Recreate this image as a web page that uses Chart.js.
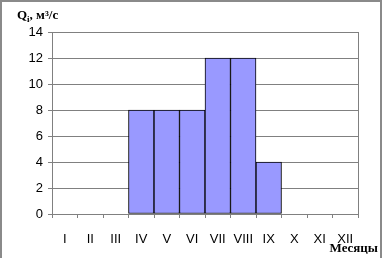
<!DOCTYPE html>
<html><head><meta charset="utf-8">
<script src="https://cdn.jsdelivr.net/npm/chart.js@4/dist/chart.umd.min.js"></script>
<style>
html,body{margin:0;padding:0;background:#fff;}
#wrap{position:relative;width:382px;height:258px;box-sizing:border-box;border-left:2px solid #8a8a8a;border-top:2px solid #8a8a8a;border-right:2px solid #8a8a8a;}
#c{position:absolute;left:-2px;top:-2px;}
</style></head>
<body>
<div id="wrap"><canvas id="c" width="382" height="258"></canvas></div>
<script>
const months = ['I','II','III','IV','V','VI','VII','VIII','IX','X','XI','XII'];
const discharge = [0,0,0,8,8,8,12,12,4,0,0,0];
const yTicks = [0,2,4,6,8,10,12,14];
const yTitle = 'Q';
const yTitleSub = 'i';
const yTitleRest = ', м³/с';
const xTitle = 'Месяцы';

const deco = {
  id:'deco',
  afterDraw(chart){
    const ctx = chart.ctx, a = chart.chartArea;
    ctx.save();
    ctx.strokeStyle = '#808080'; ctx.lineWidth = 1;
    ctx.beginPath(); ctx.moveTo(Math.round(a.right)+0.5, a.top); ctx.lineTo(Math.round(a.right)+0.5, a.bottom); ctx.stroke();
    ctx.fillStyle = '#000';
    ctx.textBaseline = 'alphabetic';
    ctx.font = 'bold 13px "Liberation Serif"';
    let x = 17, y = 19;
    ctx.fillText(yTitle, x, y); x += ctx.measureText(yTitle).width;
    ctx.font = 'bold 9px "Liberation Serif"';
    ctx.fillText(yTitleSub, x, y + 3); x += ctx.measureText(yTitleSub).width;
    ctx.font = 'bold 13px "Liberation Serif"';
    ctx.fillText(yTitleRest, x, y);
    ctx.textAlign = 'right';
    ctx.fillText(xTitle, 378, 252);
    ctx.restore();
  }
};

new Chart(document.getElementById('c'), {
  type:'bar',
  data:{labels:months, datasets:[{data:discharge, backgroundColor:'#9999FF', borderColor:'#000', borderWidth:1, borderSkipped:false, barPercentage:1, categoryPercentage:1}]},
  options:{
    responsive:false, animation:false, devicePixelRatio:1,
    layout:{padding:{left:0,right:24,top:32,bottom:0}},
    plugins:{legend:{display:false}, tooltip:{enabled:false}},
    scales:{
      x:{
        grid:{display:true, offset:true, drawOnChartArea:false, drawTicks:true, tickLength:4, color:'#808080'},
        border:{display:true, color:'#808080', width:1},
        ticks:{font:{family:'Liberation Sans', size:13}, color:'#000', padding:14, maxRotation:0, autoSkip:false},
        afterFit(s){ s.height = 44; }
      },
      y:{
        min:0, max:14,
        afterBuildTicks(s){ s.ticks = yTicks.map(v=>({value:v})); },
        grid:{color:'#808080', lineWidth:1, drawTicks:true, tickLength:4},
        border:{display:true, color:'#808080', width:1},
        ticks:{font:{family:'Liberation Sans', size:13}, color:'#000', padding:5},
        afterFit(s){ s.width = 52; }
      }
    }
  },
  plugins:[deco]
});
</script>
</body></html>
